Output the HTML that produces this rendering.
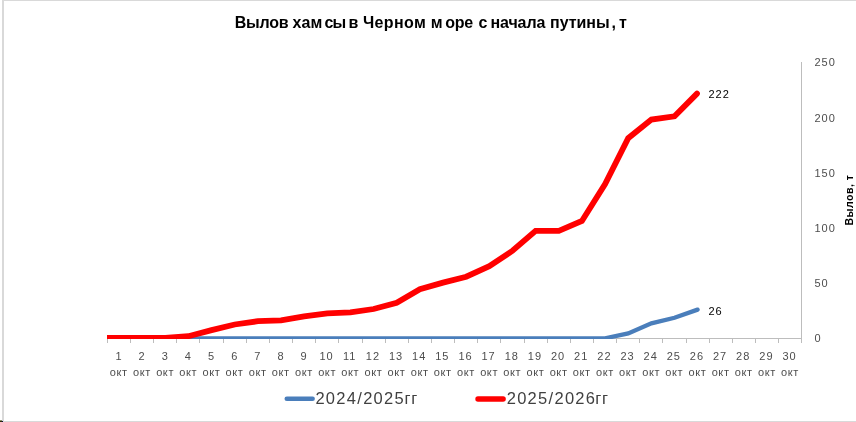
<!DOCTYPE html>
<html><head><meta charset="utf-8"><title>chart</title>
<style>
html,body{margin:0;padding:0;background:#fff;}
body{width:856px;height:422px;overflow:hidden;position:relative;}
svg{position:absolute;left:0;top:0;display:block;}
text{font-family:"Liberation Sans",sans-serif;}
svg{will-change:transform;}
.ax{font-size:11px;fill:#4d4d4d;letter-spacing:1px;}
.ok{font-size:11px;fill:#4d4d4d;letter-spacing:0.6px;}
.dl{font-size:11px;fill:#000;letter-spacing:1px;}
.lg{font-size:16.5px;fill:#404040;letter-spacing:1.29px;}
.lg2{font-size:16.5px;fill:#404040;letter-spacing:0.6px;}
.tt{font-size:16px;font-weight:bold;fill:#000;}
.yt{font-size:10.5px;font-weight:bold;fill:#000;letter-spacing:0.5px;}
</style></head><body>
<svg width="856" height="422" viewBox="0 0 856 422">
<defs><clipPath id="pc"><rect x="107" y="40" width="700" height="299"/></clipPath></defs>
<rect x="0" y="0" width="856" height="422" fill="#ffffff"/>
<rect x="2" y="0" width="854" height="1" fill="#d9d9d9"/>
<rect x="2" y="0" width="2" height="422" fill="#d9d9d9"/>
<rect x="2" y="421" width="854" height="1" fill="#d9d9d9"/>
<rect x="0" y="421" width="2" height="1" fill="#2e2e08"/>
<rect x="0" y="420" width="2" height="1" fill="#8c8c6c"/>
<rect x="2" y="421" width="1" height="1" fill="#0a0a40"/>
<g fill="#bdbdbd" shape-rendering="crispEdges">
<rect x="107" y="338" width="695" height="1"/>
<rect x="801" y="62" width="1" height="281"/>
<rect x="107" y="339" width="1" height="4"/>
<rect x="130" y="339" width="1" height="4"/>
<rect x="153" y="339" width="1" height="4"/>
<rect x="176" y="339" width="1" height="4"/>
<rect x="199" y="339" width="1" height="4"/>
<rect x="223" y="339" width="1" height="4"/>
<rect x="246" y="339" width="1" height="4"/>
<rect x="269" y="339" width="1" height="4"/>
<rect x="292" y="339" width="1" height="4"/>
<rect x="315" y="339" width="1" height="4"/>
<rect x="338" y="339" width="1" height="4"/>
<rect x="362" y="339" width="1" height="4"/>
<rect x="385" y="339" width="1" height="4"/>
<rect x="408" y="339" width="1" height="4"/>
<rect x="431" y="339" width="1" height="4"/>
<rect x="454" y="339" width="1" height="4"/>
<rect x="477" y="339" width="1" height="4"/>
<rect x="500" y="339" width="1" height="4"/>
<rect x="524" y="339" width="1" height="4"/>
<rect x="547" y="339" width="1" height="4"/>
<rect x="570" y="339" width="1" height="4"/>
<rect x="593" y="339" width="1" height="4"/>
<rect x="616" y="339" width="1" height="4"/>
<rect x="639" y="339" width="1" height="4"/>
<rect x="662" y="339" width="1" height="4"/>
<rect x="686" y="339" width="1" height="4"/>
<rect x="709" y="339" width="1" height="4"/>
<rect x="732" y="339" width="1" height="4"/>
<rect x="755" y="339" width="1" height="4"/>
<rect x="778" y="339" width="1" height="4"/>
<rect x="801" y="339" width="1" height="4"/>
</g>
<g clip-path="url(#pc)" fill="none" stroke-linejoin="miter" stroke-linecap="round">
<polyline points="107.0,338.3 119.0,338.3 142.1,338.3 165.3,338.3 188.4,338.3 211.6,338.3 234.7,338.3 257.9,338.3 281.0,338.3 304.1,338.3 327.3,338.3 350.4,338.3 373.6,338.3 396.7,338.3 419.9,338.3 443.0,338.3 466.2,338.3 489.3,338.3 512.5,338.3 535.6,338.3 558.8,338.3 581.9,338.3 605.1,338.3 628.2,333.4 651.4,323.4 674.5,317.8 697.6,309.6" stroke="#4a7ebb" stroke-width="4.3"/>
<polyline points="107.0,338.0 119.0,338.0 142.1,338.0 165.3,338.0 188.4,336.2 211.6,330.1 234.7,324.5 257.9,321.2 281.0,320.4 304.1,316.4 327.3,313.3 350.4,312.3 373.6,309.0 396.7,302.8 419.9,289.3 443.0,282.6 466.2,276.7 489.3,266.2 512.5,250.8 535.6,230.9 558.8,230.9 581.9,221.0 605.1,184.0 628.2,138.2 651.4,119.6 674.5,116.3 697.0,93.6" stroke="#ff0000" stroke-width="5.8"/>
</g>
<text class="tt" x="234.70" y="27.6" style="letter-spacing:-0.19px">Вылов</text>
<text class="tt" x="292.60" y="27.6" style="letter-spacing:0.1px">хам</text>
<text class="tt" x="324.60" y="27.6" style="letter-spacing:-0.9px">сы</text>
<text class="tt" x="348.60" y="27.6" style="letter-spacing:0px">в</text>
<text class="tt" x="362.90" y="27.6" style="letter-spacing:0.41px">Черном</text>
<text class="tt" x="430.70" y="27.6" style="letter-spacing:0px">м</text>
<text class="tt" x="445.30" y="27.6" style="letter-spacing:-0.25px">оре</text>
<text class="tt" x="478.50" y="27.6" style="letter-spacing:0px">с</text>
<text class="tt" x="490.40" y="27.6" style="letter-spacing:-0.08px">начала</text>
<text class="tt" x="550.10" y="27.6" style="letter-spacing:-0.06px">путины</text>
<text class="tt" x="611.40" y="27.6" style="letter-spacing:0px">,</text>
<text class="tt" x="618.90" y="27.6" style="letter-spacing:0px">т</text>
<text class="ax" x="814.5" y="342">0</text>
<text class="ax" x="814.5" y="287">50</text>
<text class="ax" x="814.5" y="232">100</text>
<text class="ax" x="814.5" y="177">150</text>
<text class="ax" x="814.5" y="122">200</text>
<text class="ax" x="814.5" y="66">250</text>
<text class="yt" transform="translate(852.8,200.1) rotate(-90)" text-anchor="middle">Вылов, т</text>
<text class="ax" x="119.0" y="360" text-anchor="middle">1</text>
<text class="ok" x="118.8" y="376" text-anchor="middle">окт</text>
<text class="ax" x="142.1" y="360" text-anchor="middle">2</text>
<text class="ok" x="141.9" y="376" text-anchor="middle">окт</text>
<text class="ax" x="165.3" y="360" text-anchor="middle">3</text>
<text class="ok" x="165.1" y="376" text-anchor="middle">окт</text>
<text class="ax" x="188.4" y="360" text-anchor="middle">4</text>
<text class="ok" x="188.2" y="376" text-anchor="middle">окт</text>
<text class="ax" x="211.6" y="360" text-anchor="middle">5</text>
<text class="ok" x="211.4" y="376" text-anchor="middle">окт</text>
<text class="ax" x="234.7" y="360" text-anchor="middle">6</text>
<text class="ok" x="234.5" y="376" text-anchor="middle">окт</text>
<text class="ax" x="257.9" y="360" text-anchor="middle">7</text>
<text class="ok" x="257.7" y="376" text-anchor="middle">окт</text>
<text class="ax" x="281.0" y="360" text-anchor="middle">8</text>
<text class="ok" x="280.8" y="376" text-anchor="middle">окт</text>
<text class="ax" x="304.1" y="360" text-anchor="middle">9</text>
<text class="ok" x="303.9" y="376" text-anchor="middle">окт</text>
<text class="ax" x="326.6" y="360" text-anchor="middle">10</text>
<text class="ok" x="327.1" y="376" text-anchor="middle">окт</text>
<text class="ax" x="349.7" y="360" text-anchor="middle">11</text>
<text class="ok" x="350.2" y="376" text-anchor="middle">окт</text>
<text class="ax" x="372.9" y="360" text-anchor="middle">12</text>
<text class="ok" x="373.4" y="376" text-anchor="middle">окт</text>
<text class="ax" x="396.0" y="360" text-anchor="middle">13</text>
<text class="ok" x="396.5" y="376" text-anchor="middle">окт</text>
<text class="ax" x="419.2" y="360" text-anchor="middle">14</text>
<text class="ok" x="419.7" y="376" text-anchor="middle">окт</text>
<text class="ax" x="442.3" y="360" text-anchor="middle">15</text>
<text class="ok" x="442.8" y="376" text-anchor="middle">окт</text>
<text class="ax" x="465.5" y="360" text-anchor="middle">16</text>
<text class="ok" x="466.0" y="376" text-anchor="middle">окт</text>
<text class="ax" x="488.6" y="360" text-anchor="middle">17</text>
<text class="ok" x="489.1" y="376" text-anchor="middle">окт</text>
<text class="ax" x="511.8" y="360" text-anchor="middle">18</text>
<text class="ok" x="512.3" y="376" text-anchor="middle">окт</text>
<text class="ax" x="534.9" y="360" text-anchor="middle">19</text>
<text class="ok" x="535.4" y="376" text-anchor="middle">окт</text>
<text class="ax" x="558.1" y="360" text-anchor="middle">20</text>
<text class="ok" x="558.6" y="376" text-anchor="middle">окт</text>
<text class="ax" x="581.2" y="360" text-anchor="middle">21</text>
<text class="ok" x="581.7" y="376" text-anchor="middle">окт</text>
<text class="ax" x="604.4" y="360" text-anchor="middle">22</text>
<text class="ok" x="604.9" y="376" text-anchor="middle">окт</text>
<text class="ax" x="627.5" y="360" text-anchor="middle">23</text>
<text class="ok" x="628.0" y="376" text-anchor="middle">окт</text>
<text class="ax" x="650.7" y="360" text-anchor="middle">24</text>
<text class="ok" x="651.2" y="376" text-anchor="middle">окт</text>
<text class="ax" x="673.8" y="360" text-anchor="middle">25</text>
<text class="ok" x="674.3" y="376" text-anchor="middle">окт</text>
<text class="ax" x="696.9" y="360" text-anchor="middle">26</text>
<text class="ok" x="697.4" y="376" text-anchor="middle">окт</text>
<text class="ax" x="720.1" y="360" text-anchor="middle">27</text>
<text class="ok" x="720.6" y="376" text-anchor="middle">окт</text>
<text class="ax" x="743.2" y="360" text-anchor="middle">28</text>
<text class="ok" x="743.7" y="376" text-anchor="middle">окт</text>
<text class="ax" x="766.4" y="360" text-anchor="middle">29</text>
<text class="ok" x="766.9" y="376" text-anchor="middle">окт</text>
<text class="ax" x="789.5" y="360" text-anchor="middle">30</text>
<text class="ok" x="790.0" y="376" text-anchor="middle">окт</text>
<text class="dl" x="708.5" y="98">222</text>
<text class="dl" x="708.5" y="315">26</text>
<g fill="none" stroke-linecap="round">
<line x1="286.8" y1="398.8" x2="312.6" y2="398.8" stroke="#4a7ebb" stroke-width="4.6"/>
<line x1="478.0" y1="399.0" x2="503.1" y2="399.0" stroke="#ff0000" stroke-width="5.4"/>
</g>
<text class="lg" x="315.4" y="404">2024/2025</text>
<text class="lg2" x="404.6" y="404">гг</text>
<text class="lg" x="506.7" y="404">2025/2026</text>
<text class="lg2" x="595.3" y="404">гг</text>
</svg>
</body></html>
